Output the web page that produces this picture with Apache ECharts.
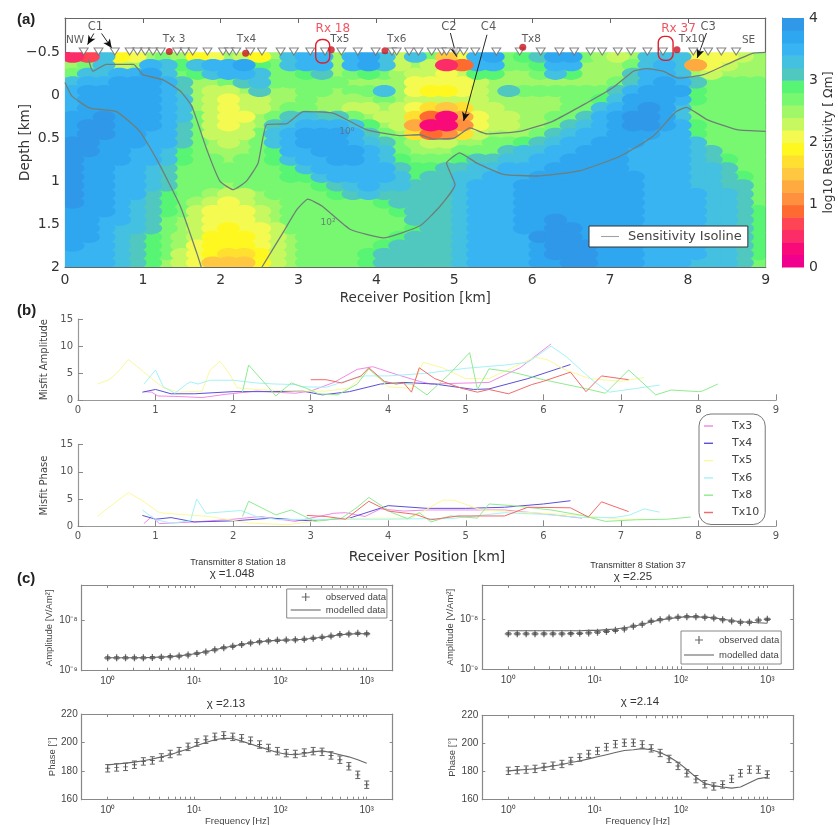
<!DOCTYPE html>
<html><head><meta charset="utf-8">
<style>html,body{margin:0;padding:0;background:#fff}#c{width:838px;height:825px}</style>
<script src="https://cdn.jsdelivr.net/npm/echarts@6/dist/echarts.min.js"></script>
</head><body><div id="c"></div>
<script>
// ---------- DATA ----------
const resistivity = [
[0.4,0.6,3.2,1.8,2.0, 2.4,2.6,2.4,1.9,2.0, 2.4,2.3,1.9,2.5,3.3, 3.5,3.5,2.4,3.5,3.7, 3.3,2.2,3.2,2.6,1.5, 2.0,3.5,3.6,2.7,2.8, 3.0,3.6,3.6,2.6,2.4, 2.3,2.5,3.2,3.3,3.2, 2.0,2.0,2.1,2.2,2.4],
[2.4,2.6,3.2,2.3,2.4, 3.5,3.3,2.8,3.3,3.5, 3.5,3.6,2.9,2.7,3.3, 3.5,3.4,2.4,3.4,3.6, 3.2,2.3,2.5,2.2,0.5, 0.8,3.5,3.4,2.6,2.6, 2.9,3.5,3.4,2.5,2.4, 2.4,2.7,3.3,3.4,3.2, 1.2,2.0,2.2,2.4,2.5],
[2.6,3.3,3.3,3.4,3.4, 3.6,3.3,2.7,2.9,3.3, 3.4,3.5,3.2,2.6,2.7, 2.8,3.0,2.5,2.6,2.8, 2.6,2.4,2.3,2.2,2.0, 2.2,2.9,2.8,2.5,2.5, 2.7,3.2,2.9,2.5,2.4, 2.5,3.0,3.4,3.5,3.3, 2.5,2.3,2.4,2.5,2.5],
[3.3,3.5,3.5,3.6,3.7, 3.7,3.4,3.0,2.5,2.5, 2.6,3.0,3.3,2.6,2.6, 2.6,2.7,2.7,2.5,2.5, 2.5,2.4,2.1,2.0,2.0, 2.1,2.3,2.4,2.5,2.5, 2.5,2.5,2.5,2.5,2.5, 2.6,3.1,3.5,3.6,3.5, 3.0,2.6,2.6,2.6,2.6],
[3.4,3.6,3.6,3.7,3.7, 3.7,3.5,3.1,2.4,2.2, 2.2,2.4,3.1,2.5,2.5, 2.6,2.6,2.5,2.6,2.6, 3.2,2.4,2.0,1.9,1.9, 2.0,2.2,2.4,3.1,2.6, 2.6,2.6,2.6,2.6,2.7, 3.1,3.5,3.6,3.7,3.6, 2.9,2.7,2.6,2.6,2.6],
[3.4,3.6,3.7,3.7,3.7, 3.7,3.5,3.2,2.4,2.2, 2.1,2.2,2.3,2.5,2.5, 2.6,2.5,2.4,2.4,2.5, 2.6,2.5,2.3,2.2,2.2, 2.3,2.3,2.4,2.5,2.5, 2.5,2.5,2.6,2.6,2.8, 3.3,3.6,3.7,3.7,3.4, 2.8,2.7,2.6,2.6,2.6],
[3.5,3.6,3.7,3.7,3.7, 3.6,3.5,3.2,2.5,2.2, 2.1,2.2,2.3,2.5,2.6, 2.6,2.5,2.4,2.3,2.3, 2.4,2.3,2.0,1.6,1.4, 1.7,2.2,2.3,2.4,2.5, 2.5,2.5,2.6,2.7,3.2, 3.5,3.7,3.8,3.7,3.3, 2.7,2.6,2.6,2.6,2.6],
[3.6,3.7,3.8,3.7,3.6, 3.6,3.5,3.2,2.6,2.2, 2.1,2.1,2.4,2.6,3.0, 3.2,3.1,3.0,2.7,2.4, 2.3,2.2,1.6,0.8,0.3, 1.2,2.1,2.2,2.3,2.4, 2.5,2.6,2.7,3.1,3.4, 3.6,3.8,3.8,3.6,3.3, 2.7,2.6,2.6,2.6,2.6],
[3.7,3.8,3.8,3.7,3.6, 3.6,3.5,3.1,2.6,2.3, 2.1,2.2,2.5,3.0,3.3, 3.5,3.5,3.4,3.2,2.8, 2.5,2.3,1.2,0.3,0.2, 1.1,2.0,2.2,2.3,2.4, 2.5,2.7,3.1,3.3,3.5, 3.7,3.8,3.8,3.6,3.4, 2.8,2.6,2.6,2.6,2.6],
[3.7,3.8,3.8,3.6,3.6, 3.5,3.5,3.1,2.6,2.3, 2.2,2.3,2.6,3.2,3.4, 3.6,3.7,3.6,3.4,3.1, 2.7,2.5,1.6,0.9,1.0, 1.6,2.3,2.4,2.5,2.5, 2.7,3.1,3.3,3.5,3.5, 3.6,3.7,3.6,3.5,3.4, 2.9,2.6,2.6,2.6,2.6],
[3.8,3.8,3.7,3.6,3.6, 3.5,3.4,3.0,2.7,2.4, 2.3,2.4,2.7,3.2,3.5, 3.6,3.7,3.7,3.5,3.3, 3.0,2.6,2.4,2.2,2.2, 2.4,2.5,2.6,2.7,2.9, 3.1,3.3,3.5,3.5,3.6, 3.6,3.6,3.5,3.5,3.4, 3.2,2.7,2.6,2.6,2.6],
[3.8,3.8,3.7,3.6,3.5, 3.5,3.3,2.9,2.7,2.5, 2.4,2.5,2.7,2.9,3.4, 3.5,3.7,3.7,3.6,3.4, 3.2,2.7,2.5,2.5,2.5, 2.6,2.6,2.7,3.0,3.2, 3.3,3.5,3.5,3.6,3.6, 3.6,3.5,3.5,3.5,3.4, 3.3,3.0,2.7,2.6,2.6],
[3.8,3.7,3.6,3.6,3.5, 3.4,3.2,2.8,2.7,2.6, 2.5,2.6,2.7,2.8,3.2, 3.4,3.5,3.6,3.6,3.5, 3.3,2.9,2.7,2.7,2.7, 2.8,3.0,3.1,3.2,3.3, 3.5,3.5,3.6,3.6,3.6, 3.6,3.5,3.5,3.5,3.4, 3.3,3.1,2.8,2.6,2.6],
[3.8,3.7,3.6,3.5,3.5, 3.3,3.1,2.7,2.7,2.6, 2.6,2.6,2.7,2.7,2.9, 3.2,3.4,3.5,3.5,3.5, 3.4,3.1,2.8,2.9,3.0, 3.1,3.2,3.3,3.4,3.5, 3.5,3.6,3.6,3.7,3.6, 3.6,3.5,3.5,3.4,3.4, 3.3,3.2,3.0,2.7,2.6],
[3.8,3.7,3.6,3.5,3.4, 3.2,3.0,2.7,2.7,2.6, 2.6,2.6,2.7,2.7,2.8, 2.9,3.2,3.4,3.4,3.5, 3.4,3.2,2.9,3.0,3.1, 3.3,3.3,3.4,3.4,3.5, 3.6,3.7,3.7,3.7,3.6, 3.6,3.6,3.5,3.4,3.4, 3.3,3.2,3.1,2.8,2.6],
[3.8,3.7,3.6,3.5,3.4, 3.2,3.0,2.7,2.6,2.6, 2.5,2.6,2.6,2.7,2.7, 2.7,2.9,3.1,3.3,3.4, 3.3,3.2,3.1,3.1,3.1, 3.3,3.4,3.4,3.5,3.6, 3.7,3.7,3.7,3.6,3.6, 3.6,3.6,3.5,3.4,3.4, 3.3,3.3,3.1,3.0,2.7],
[3.8,3.7,3.6,3.5,3.4, 3.1,2.9,2.7,2.6,2.4, 2.3,2.3,2.5,2.6,2.7, 2.7,2.7,2.9,3.1,3.2, 3.1,3.1,3.1,3.1,3.1, 3.3,3.4,3.4,3.5,3.6, 3.7,3.7,3.7,3.6,3.6, 3.6,3.6,3.5,3.4,3.4, 3.4,3.3,3.2,3.1,2.7],
[3.8,3.7,3.6,3.4,3.3, 3.1,2.8,2.6,2.4,2.2, 2.1,2.2,2.4,2.5,2.7, 2.7,2.7,2.7,2.7,2.7, 2.8,3.0,3.1,3.1,3.1, 3.3,3.4,3.4,3.5,3.6, 3.7,3.7,3.7,3.7,3.6, 3.6,3.6,3.5,3.4,3.4, 3.4,3.3,3.2,3.1,2.7],
[3.7,3.7,3.6,3.4,3.3, 3.1,2.8,2.6,2.3,2.1, 2.0,2.1,2.3,2.5,2.7, 2.7,2.7,2.7,2.7,2.7, 2.7,2.8,3.0,3.1,3.1, 3.3,3.4,3.5,3.5,3.6, 3.7,3.7,3.7,3.7,3.6, 3.6,3.6,3.5,3.4,3.4, 3.4,3.3,3.2,3.1,2.8],
[3.7,3.6,3.5,3.4,3.2, 3.0,2.7,2.5,2.3,2.0, 2.0,2.0,2.2,2.4,2.6, 2.7,2.7,2.7,2.7,2.7, 2.7,2.7,3.0,3.1,3.1, 3.3,3.4,3.5,3.5,3.6, 3.7,3.8,3.7,3.7,3.6, 3.6,3.6,3.5,3.4,3.4, 3.4,3.3,3.2,3.1,2.8],
[3.7,3.6,3.5,3.3,3.2, 3.0,2.7,2.5,2.2,2.0, 1.9,2.0,2.1,2.3,2.6, 2.7,2.7,2.7,2.7,2.7, 2.6,2.7,2.9,3.1,3.1, 3.2,3.4,3.5,3.5,3.6, 3.7,3.8,3.8,3.7,3.7, 3.7,3.6,3.5,3.4,3.4, 3.4,3.3,3.2,3.1,2.8],
[3.6,3.6,3.4,3.3,3.1, 2.9,2.6,2.4,2.2,1.9, 1.9,1.9,2.1,2.3,2.5, 2.7,2.7,2.7,2.7,2.7, 2.6,2.8,3.0,3.1,3.1, 3.2,3.4,3.5,3.5,3.5, 3.8,3.8,3.8,3.7,3.7, 3.7,3.6,3.5,3.4,3.4, 3.4,3.3,3.2,3.1,2.8],
[3.6,3.5,3.4,3.3,3.1, 2.9,2.6,2.4,2.1,1.9, 1.8,1.9,2.0,2.2,2.5, 2.7,2.7,2.7,2.7,2.7, 2.9,3.0,3.1,3.1,3.1, 3.2,3.4,3.5,3.5,3.5, 3.7,3.8,3.8,3.8,3.7, 3.7,3.6,3.5,3.4,3.4, 3.4,3.3,3.2,3.1,2.8],
[3.5,3.5,3.4,3.3,3.1, 2.8,2.6,2.3,2.0,1.8, 1.6,1.7,1.9,2.2,2.5, 2.7,2.7,2.7,2.7,2.8, 3.0,3.1,3.1,3.1,3.1, 3.2,3.4,3.5,3.5,3.5, 3.6,3.8,3.8,3.8,3.7, 3.7,3.6,3.5,3.4,3.4, 3.4,3.3,3.2,3.1,2.8],
[3.5,3.5,3.4,3.2,3.0, 2.8,2.5,2.3,2.0,1.5, 1.4,1.5,1.8,2.2,2.4, 2.6,2.7,2.7,2.7,2.8, 3.0,3.1,3.1,3.1,3.1, 3.2,3.4,3.5,3.5,3.5, 3.6,3.7,3.8,3.8,3.7, 3.7,3.6,3.5,3.4,3.4, 3.3,3.3,3.2,3.1,2.7]
];
const colorLevels = ['#f0008c','#f80a78','#fc2c68','#ff4455','#ff6a30','#ff9040','#ffaa40','#ffc840','#ffe030','#fff820','#f4fa50','#c8f860','#a0f868','#78f870','#58f474','#50c8c0','#44c0e0','#38b4f2','#2fa6f0','#2f98e8'];
const receivers = [.24,.43,.64,.83,.93,1.03,1.13,1.23,1.44,1.54,1.64,1.83,2.03,2.11,2.2,2.38,2.53,2.77,2.94,3.15,3.34,3.55,3.76,3.99,4.2,4.26,4.42,4.54,4.71,4.84,4.9,5.03,5.12,5.27,5.54,5.84,6.11,6.35,6.54,6.75,6.9,7.1,7.27,7.48,7.68,8.07,8.26,8.43,8.62];
const transmitters = [[1.34,-.51],[2.32,-.49],[3.42,-.53],[4.11,-.52],[5.88,-.56],[7.86,-.53]];
const isolineUpper = [[.3,-.42],[.36,-.28],[.53,-.36],[.88,-.36],[1,-.24],[1.26,-.18],[1.48,-.05],[1.63,.13],[1.82,.63],[1.99,1],[2.16,1.1],[2.33,1],[2.48,.79],[2.59,.34],[2.85,.33],[3.06,.19],[3.45,.21],[3.87,.4],[4.3,.47],[4.56,.46],[4.73,.51],[5,.5],[5.2,.38],[5.42,.45],[5.84,.42],[6.27,.3],[6.7,.09],[7.04,-.09],[7.3,-.28],[7.47,-.31],[7.68,-.28],[7.88,-.2],[8.2,-.24],[8.5,-.36],[8.84,-.49],[9,-.5]];
const isolineLowerLeft = [[0,-.15],[.09,.01],[.32,.15],[.66,.19],[.96,.42],[1.18,.75],[1.48,1.29],[1.69,1.83],[1.75,2]];
const isolineLowerRight = [[2.53,2],[2.8,1.6],[2.98,1.33],[3.12,1.21],[3.3,1.29],[3.66,1.56],[4.09,1.66],[4.56,1.52],[4.82,1.29],[5.01,1.04],[4.9,.79],[5.07,.67],[5.29,.79],[5.63,.92],[6.06,.94],[6.61,.88],[7.13,.71],[7.55,.48],[7.85,.19],[7.98,.14],[8.24,.28],[8.63,.4],[9,.42]];
const siteLabels = [['NW',.13,-.64,'#333'],['C1',.39,-.79,'#333'],['Tx 3',1.4,-.655,'#333'],['Tx4',2.33,-.655,'#333'],['Rx 18',3.44,-.775,'#ee2a3a'],['Tx5',3.53,-.655,'#333'],['Tx6',4.26,-.655,'#333'],['C2',4.93,-.795,'#333'],['C4',5.44,-.795,'#333'],['Tx8',5.99,-.655,'#333'],['Rx 37',7.88,-.775,'#ee2a3a'],['C3',8.26,-.795,'#333'],['Tx10',8.05,-.655,'#333'],['SE',8.78,-.64,'#333'],['10⁰',3.62,.42,'#667'],['10²',3.38,1.48,'#667']];
const arrows = [[[.37,-.72],[.29,-.59]],[[.47,-.72],[.6,-.55]],[[4.95,-.725],[5.03,-.45]],[[5.42,-.705],[5.12,.3]],[[8.24,-.725],[8.12,-.435]]];
const rxBoxes = [[3.22,-.65,3.4,-.376],[7.62,-.686,7.81,-.407]];

const txNames = ['Tx3','Tx4','Tx5','Tx6','Tx8','Tx10'];
const txColors = ['#f08ae8','#5c50d8','#fbf99a','#a5f2f7','#8fec8f','#f46a6a'];
const misfitAmp = [
[[.85,1.6],[.95,1.5],[1.03,.8],[1.3,.7],[1.6,.5],[1.9,1.1],[2.3,1.7],[2.8,1.3],[3,1.7],[3.3,3.3],[3.6,5.7],[3.8,6.2],[4.1,4.8],[4.4,3.5],[4.55,3],[5.3,3.3],[5.7,6],[6.1,10.4]],
[[.83,1.5],[1,2],[1.2,1.2],[1.5,1.2],[2,1.6],[2.5,1.6],[2.9,1.7],[3.15,1],[3.5,1.6],[3.9,3],[4.2,3.3],[4.6,3],[5.1,2],[5.3,2.1],[5.8,4],[6.35,6.6]],
[[.25,3],[.4,3.8],[.5,5],[.65,7.5],[.8,5.8],[.95,4],[1.1,2.3],[1.3,1.5],[1.6,1.7],[1.7,5.5],[1.83,7.2],[1.95,5],[2.05,2.3],[2.3,2],[2.8,1.7],[3.2,1.7],[3.5,2.3],[3.75,5.8],[4,2.5],[4.3,2.2],[4.45,7],[4.7,6],[5,4],[5.3,4],[5.6,6],[5.9,8],[6.05,7.5],[6.3,5.5],[6.6,4],[7,3.5],[7.3,4.2]],
[[.85,3],[1,5.6],[1.1,2.5],[1.25,1.3],[1.4,3],[1.45,3.4],[1.55,3],[1.7,3.7],[2,3.7],[2.3,3.2],[2.55,3],[2.8,2.9],[2.9,2.5],[3.2,2.4],[3.5,3.8],[3.7,4.5],[4,4.5],[4.5,5],[5,5.9],[5.5,6.5],[5.8,7],[6.1,10],[6.3,8],[6.65,3.5],[6.85,1.5],[7.2,2.2],[7.5,2.8]],
[[2.12,1.5],[2.2,6.5],[2.45,2.5],[2.55,.8],[2.75,3.2],[2.95,2.2],[3.1,1.2],[3.35,1],[3.6,3],[3.75,5.8],[3.95,3.3],[4.3,3],[4.5,1],[4.8,5],[5.05,8.8],[5.15,2],[5.3,5.8],[5.6,5.2],[6,3.8],[6.5,2.3],[6.8,1.3],[7.1,5.6],[7.45,1],[7.65,1.9],[8,1.6],[8.05,1.7],[8.25,3]],
[[3,3.8],[3.2,3.8],[3.4,3.2],[3.65,4.5],[3.75,6],[3.95,3.5],[4.1,3],[4.2,3.2],[4.3,1.5],[4.4,6],[4.6,4],[4.95,2.2],[5.15,1.5],[5.3,2],[5.55,1.2],[5.85,2.9],[6,3.5],[6.35,5.2],[6.55,1.6],[6.75,4.5],[7.1,3.8]]
];
const misfitPhase = [
[[.85,.5],[.95,1.8],[1.05,.5],[1.5,.8],[2,1.3],[2.35,1.8],[2.8,.9],[3.3,2.4],[3.45,2.5],[3.7,1.8],[3.9,3.2],[4.2,2.8],[4.5,3],[5,3],[5.5,3],[6,2.3],[6.5,1.5]],
[[.83,2],[1,1.3],[1.2,1.6],[1.5,.8],[2,1],[2.5,1.5],[3,1],[3.5,1.5],[4,3.8],[4.5,3.3],[5,3.3],[5.5,3.5],[6,4.1],[6.35,4.7]],
[[.25,1.8],[.4,3.5],[.65,6.2],[.8,5],[1.05,2.5],[1.3,2.2],[1.7,1.8],[2.2,.6],[2.7,.3],[3.3,1.4],[3.8,1.5],[4.3,1.5],[4.7,4.8],[4.85,4.8],[5.2,3],[5.6,2.7],[6.5,2],[7,1.3],[7.3,1.3]],
[[.83,3],[1,1.2],[1.2,.6],[1.45,1],[1.53,5],[1.65,2.4],[2.1,2.9],[2.3,1.8],[2.6,1.2],[3,1.3],[3.5,1.3],[4,1.3],[4.5,1.4],[4.8,1.4],[5.5,2.5],[6,2.2],[6.5,1.6],[6.9,1.6],[7.1,2],[7.3,3.2],[7.5,2.6]],
[[2.12,1.8],[2.2,4.6],[2.55,2.1],[2.75,3],[3,1.3],[3.05,.9],[3.4,1.5],[3.6,3.5],[3.75,5.3],[4.05,2.5],[4.25,1.4],[4.4,2.5],[4.55,.8],[4.8,1.9],[5.15,1.5],[5.3,4.1],[5.6,3.8],[6.1,3],[6.5,2],[6.8,.9],[7.2,1.2],[7.6,1.3],[7.9,1.7]],
[[2.95,2],[3.2,1.8],[3.45,1.3],[3.75,4.6],[4,2.8],[4.35,2.2],[4.55,1.2],[4.9,1.9],[5.5,1.9],[5.8,3.5],[6.35,3.4],[6.58,1.7],[6.75,4.5],[7.1,2.7]]
];
const freq = [1,1.27,1.61,2.04,2.59,3.29,4.18,5.3,6.72,8.53,10.8,13.7,17.4,22.1,28.1,35.6,45.2,57.4,72.8,92.4,117,149,189,240,304,386,489,621,788,1000];
// amplitudes in units of 1e-9 V/Am^2
const amp18Obs = [1.8,1.8,1.8,1.8,1.8,1.82,1.85,1.9,1.95,2.05,2.2,2.35,2.6,2.85,3.05,3.3,3.55,3.75,3.9,4,4.05,4.1,4.2,4.4,4.6,4.85,5.2,5.35,5.5,5.4];
const amp18Mod = [1.8,1.8,1.8,1.8,1.82,1.84,1.87,1.9,1.97,2.07,2.2,2.38,2.6,2.85,3.08,3.3,3.55,3.75,3.9,4,4.05,4.1,4.2,4.4,4.6,4.85,5.15,5.3,5.4,5.4];
const phase18Obs = [182,182.6,183,184.5,186.8,187.5,189.6,192,194,197,200,202,204,205,204,203,201.3,198.6,196.2,194,192.6,192,193,194,193.5,191,188,183.4,177.4,170.5];
const phase18Mod = [184.4,185,185.6,186.3,187.3,188.5,190,191.5,193.5,195.5,198,200,202,203,202.8,201,199,197,195,193,191.8,191.5,192.3,193.5,194.2,193,191.5,190,188,185.5];
const amp37Obs = [5.2,5.2,5.2,5.2,5.2,5.2,5.2,5.25,5.3,5.4,5.6,5.8,6.1,6.5,7.4,8.1,9.3,10,10.8,11.2,11.5,11.5,11.2,10.8,10,9.4,8.9,8.9,9.8,10.2];
const amp37Mod = [6,6,6,6,6,6,6,6,6,6.1,6.1,6.3,6.5,6.9,7.3,8.1,9,9.9,10.5,11.1,11.5,11.4,11.2,11,10.2,9.6,9.1,8.9,8.7,8.5];
const phase37Obs = [180.5,181,181.4,181.9,183.3,184.2,185.4,187.5,190,192.5,194.6,197.4,199.5,200.5,200.5,199.3,196.5,193.2,189,184,178.8,174.6,171,169.4,170.8,174.8,178.8,181.4,181.4,177.9];
const phase37Mod = [180.5,181,181.5,182,183,184,185,186.5,187.5,189,190.5,192,193.5,195,195.5,196.3,195.5,193.5,190.5,186.5,181.5,176,171.5,170,169,168.2,169,172,175,176];
const phaseError = 2.6;
const ampErrorFraction = 0.05;
const xMajor = [1,10,100,1000];
const xMinor = [2,3,4,5,6,7,8,9,20,30,40,50,60,70,80,90,200,300,400,500,600,700,800,900];

// ---------- BUILD ----------
const gray='#666', tc='#444';
const grids=[], xAxes=[], yAxes=[], series=[];
const lineIcon='path://M0 0L0 0M0 44H100V56H0ZM100 100L100 100';
const plusIcon='path://M0 0L0 0M30 9L30 9M14.4 0.5H15.6V8.5H14.4ZM11 3.9H19V5.1H11Z';
function sup(p){return String(p).split('').map(c=>({'-':'⁻','0':'⁰','1':'¹','2':'²','3':'³','4':'⁴','5':'⁵','6':'⁶','7':'⁷','8':'⁸','9':'⁹'}[c])).join('');}
function box(l,t,r,b){grids.push({left:l,top:t,width:r-l,height:b-t,show:false,containLabel:false,outerBoundsMode:'none'});return grids.length-1;}
const noSplit={splitLine:{show:false}};

// (a)
const gA=box(65,18,765.7,267);
const aTicksY=[-.5,0,.5,1,1.5];
xAxes.push({gridIndex:gA,type:'value',min:0,max:9,interval:1,position:'bottom',...noSplit,
  axisLine:{onZero:false,lineStyle:{color:gray,width:1.2}},axisTick:{inside:true,length:5,lineStyle:{color:gray}},
  axisLabel:{fontSize:14,color:'#333',margin:6,fontFamily:'DejaVu Sans'},
  name:'Receiver Position [km]',nameLocation:'middle',nameGap:24,nameTextStyle:{fontSize:13.5,color:'#333',fontFamily:'DejaVu Sans'}});
const xA=xAxes.length-1;
yAxes.push({gridIndex:gA,type:'value',min:-.9,max:2,inverse:true,position:'left',...noSplit,
  axisLine:{show:true,onZero:false,lineStyle:{color:gray,width:1.2}},
  axisTick:{show:true,inside:true,length:5,customValues:aTicksY.concat([2]),lineStyle:{color:gray}},
  axisLabel:{fontSize:14,color:'#333',margin:5,customValues:aTicksY.concat([2]),fontFamily:'DejaVu Sans',formatter:v=>String(v).replace('-','−')},
  name:'Depth [km]',nameLocation:'middle',nameGap:33,nameMoveOverlap:false,nameTextStyle:{fontSize:13.5,color:'#333',fontFamily:'DejaVu Sans'}});
const yA=yAxes.length-1;
xAxes.push({gridIndex:gA,type:'value',min:0,max:9,interval:1,position:'top',...noSplit,axisLine:{onZero:false,lineStyle:{color:gray,width:1.2}},axisTick:{inside:true,length:5,lineStyle:{color:gray}},axisLabel:{show:false}});
yAxes.push({gridIndex:gA,type:'value',min:-.9,max:2,inverse:true,position:'right',...noSplit,axisLine:{show:true,onZero:false,lineStyle:{color:gray,width:1.2}},axisTick:{show:true,inside:true,length:5,customValues:aTicksY,lineStyle:{color:gray}},axisLabel:{show:false}});

const cells=[];
resistivity.forEach((row,i)=>row.forEach((v,j)=>cells.push([j*0.2+0.1,-0.45+i*0.1,v])));
cells.sort((p,q)=>Math.abs(p[2]-2.5)-Math.abs(q[2]-2.5));
series.push({type:'custom',name:'Resistivity',xAxisIndex:xA,yAxisIndex:yA,data:cells,silent:true,animation:false,z:1,progressive:0,
  encode:{x:0,y:1},
  renderItem(p,api){
    const c=api.coord([api.value(0),api.value(1)]);
    const tl=api.coord([0,-.5]), br=api.coord([9,2]);
    const lv=Math.min(19,Math.max(0,Math.floor(api.value(2)*5+1e-6)));
    return {type:'ellipse',shape:{cx:c[0],cy:c[1],rx:11.5,ry:6.1},style:{fill:colorLevels[lv]},
      clipPath:{type:'rect',shape:{x:tl[0],y:tl[1],width:br[0]-tl[0],height:br[1]-tl[1]}}};
  }});
[isolineUpper,isolineLowerLeft,isolineLowerRight].forEach(d=>{
  series.push({type:'line',name:'Sensitivity Isoline',xAxisIndex:xA,yAxisIndex:yA,data:d,smooth:.15,showSymbol:false,symbol:'none',animation:false,z:3,
    lineStyle:{color:'#6f7f78',width:1.3},itemStyle:{color:'#9aa5a0'}});
});
series.push({type:'scatter',name:'Receivers',xAxisIndex:xA,yAxisIndex:yA,data:receivers.map(x=>[x,-.51]),symbol:'triangle',symbolRotate:180,symbolSize:[9,7],animation:false,z:5,silent:true,
  itemStyle:{color:'#fff',borderColor:'#666',borderWidth:1}});
series.push({type:'scatter',name:'Transmitters',xAxisIndex:xA,yAxisIndex:yA,data:transmitters,symbol:'circle',symbolSize:7,animation:false,z:6,silent:true,itemStyle:{color:'#c8141e'}});
series.push({type:'scatter',name:'Site labels',xAxisIndex:xA,yAxisIndex:yA,animation:false,z:7,silent:true,symbolSize:0,
  data:siteLabels.map(s=>({value:[s[1],s[2]],name:s[0],
    label:{show:true,position:'inside',formatter:s[0],color:s[3],fontFamily:'DejaVu Sans',
      fontSize:s[0][0]==='R'?12:s[0].startsWith('10')?9:s[0][0]==='C'?11.5:10.5}}))});
series.push({type:'scatter',name:'Arrows',xAxisIndex:xA,yAxisIndex:yA,data:[],animation:false,z:8,silent:true,
  markLine:{silent:true,animation:false,symbol:['none','arrow'],symbolSize:[6,9],label:{show:false},lineStyle:{color:'#111',width:.9,type:'solid'},
    data:arrows.map(a=>[{coord:a[0]},{coord:a[1]}])}});
series.push({type:'custom',name:'Rx boxes',xAxisIndex:xA,yAxisIndex:yA,data:rxBoxes,silent:true,animation:false,z:8,encode:{x:[0,2],y:[1,3]},
  renderItem(p,api){
    const a=api.coord([api.value(0),api.value(1)]), b=api.coord([api.value(2),api.value(3)]);
    return {type:'rect',shape:{x:a[0],y:a[1],width:b[0]-a[0],height:b[1]-a[1],r:6},style:{fill:'none',stroke:'#e01f2d',lineWidth:1.4}};
  }});

// colourbar
const gC=box(782,18,804,267);
xAxes.push({gridIndex:gC,type:'value',min:0,max:1,show:false,...noSplit});
yAxes.push({gridIndex:gC,type:'value',min:0,max:4,interval:1,position:'right',...noSplit,
  axisLine:{show:true,lineStyle:{color:gray}},axisTick:{show:false},
  axisLabel:{fontSize:14,color:'#333',margin:5,fontFamily:'DejaVu Sans'},
  name:'log10 Resistivity [ Ωm]',nameLocation:'middle',nameGap:17,nameRotate:90,nameTextStyle:{fontSize:12.5,color:'#333',fontFamily:'DejaVu Sans'}});
series.push({type:'custom',name:'Colourbar',xAxisIndex:xAxes.length-1,yAxisIndex:yAxes.length-1,silent:true,animation:false,z:2,
  data:colorLevels.map((c,i)=>[i*0.2]),encode:{y:0},
  renderItem(p,api){
    const i=p.dataIndex, a=api.coord([0,api.value(0)+.2]), b=api.coord([1,api.value(0)]);
    return {type:'rect',shape:{x:a[0],y:a[1],width:b[0]-a[0],height:b[1]-a[1]+.5},style:{fill:colorLevels[i]}};
  }});

// (b)
function misfit(top,bottom,name,data,xname){
  const g=box(78,top,776,bottom);
  const xa={gridIndex:g,type:'value',min:0,max:9,interval:1,...noSplit,
    axisLine:{onZero:false,lineStyle:{color:'#999',width:1.2}},axisTick:{inside:true,length:6,lineStyle:{color:'#888'}},
    axisLabel:{fontSize:10,color:'#555',margin:5,fontFamily:'DejaVu Sans'}};
  if(xname){Object.assign(xa,{name:xname,nameLocation:'middle',nameGap:24,nameTextStyle:{fontSize:14,color:'#333',fontFamily:'DejaVu Sans'}});}
  xAxes.push(xa);
  yAxes.push({gridIndex:g,type:'value',min:0,max:15,interval:5,...noSplit,
    axisLine:{show:true,onZero:false,lineStyle:{color:'#999',width:1.2}},axisTick:{show:true,inside:true,length:5,lineStyle:{color:'#888'}},
    axisLabel:{fontSize:10,color:'#555',margin:5,fontFamily:'DejaVu Sans'},
    name:name,nameLocation:'middle',nameGap:29,nameTextStyle:{fontSize:10,color:'#444',fontFamily:'DejaVu Sans'}});
  data.forEach((d,i)=>series.push({type:'line',name:txNames[i],xAxisIndex:xAxes.length-1,yAxisIndex:yAxes.length-1,data:d,
    showSymbol:false,symbol:'none',animation:false,lineStyle:{color:txColors[i],width:1},itemStyle:{color:txColors[i]},z:3}));
}
misfit(319,400.3,'Misfit Amplitude',misfitAmp,null);
misfit(444.7,526.3,'Misfit Phase',misfitPhase,'Receiver Position [km]');

// (c)
function freqPlot(l,t,r,b,yOpts,name,obs,mod,err,xname){
  const g=box(l,t,r,b);
  const lab={fontSize:10,color:tc,margin:6,fontFamily:'Liberation Sans'};
  const mainX={gridIndex:g,type:'log',logBase:10,min:.5,max:2000,position:'bottom',...noSplit,
    axisLine:{onZero:false,lineStyle:{color:'#888',width:1.2}},
    axisTick:{show:true,inside:true,length:3,customValues:xMajor.concat(xMinor),lineStyle:{color:'#888'}},
    axisLabel:{...lab,customValues:xMajor,formatter:v=>'10'+sup(Math.round(Math.log10(v)))},minorTick:{show:false}};
  if(xname)Object.assign(mainX,{name:xname,nameLocation:'middle',nameGap:17,nameTextStyle:{fontSize:9.5,color:tc,fontFamily:'Liberation Sans'}});
  xAxes.push(mainX);const xi=xAxes.length-1;
  yAxes.push({gridIndex:g,position:'left',type:yOpts.type,min:yOpts.min,max:yOpts.max,logBase:yOpts.logBase,...noSplit,
    axisLine:{show:true,onZero:false,lineStyle:{color:'#888',width:1.2}},
    axisTick:{show:true,inside:true,length:3,lineStyle:{color:'#888'},customValues:yOpts.ticks},
    axisLabel:{...lab,margin:4,customValues:yOpts.ticks,formatter:yOpts.type==='log'?(v=>'10'+sup(Math.round(Math.log10(v)))):undefined},
    name:name,nameLocation:'middle',nameGap:yOpts.type==='log'?27:23,nameTextStyle:{fontSize:9.5,color:tc,fontFamily:'Liberation Sans'}});
  const yi=yAxes.length-1;
  xAxes.push({gridIndex:g,type:'log',logBase:10,min:.5,max:2000,position:'top',...noSplit,axisLine:{onZero:false,lineStyle:{color:'#888',width:1.2}},axisTick:{show:true,inside:true,length:3,customValues:xMajor.concat(xMinor),lineStyle:{color:'#888'}},axisLabel:{show:false}});
  yAxes.push({gridIndex:g,position:'right',type:yOpts.type,min:yOpts.min,max:yOpts.max,logBase:yOpts.logBase,...noSplit,axisLine:{show:true,onZero:false,lineStyle:{color:'#888',width:1.2}},axisTick:{show:true,inside:true,length:3,lineStyle:{color:'#888'},customValues:yOpts.ticks},axisLabel:{show:false}});
  const od=freq.map((f,i)=>[f,obs[i]]), md=freq.map((f,i)=>[f,mod[i]]);
  series.push({type:'custom',name:'error bars',xAxisIndex:xi,yAxisIndex:yi,silent:true,animation:false,z:3,encode:{x:0,y:1},
    data:od.map((d,i)=>[d[0],d[1],err(d[1])]),
    renderItem(p,api){
      const x=api.value(0),y=api.value(1),e=api.value(2);
      const hi=api.coord([x,y+e]),lo=api.coord([x,y-e]),st={stroke:'#555',lineWidth:.9};
      const c=[{type:'line',shape:{x1:hi[0],y1:hi[1],x2:lo[0],y2:lo[1]},style:st},
        {type:'line',shape:{x1:hi[0]-2.5,y1:hi[1],x2:hi[0]+2.5,y2:hi[1]},style:st},
        {type:'line',shape:{x1:lo[0]-2.5,y1:lo[1],x2:lo[0]+2.5,y2:lo[1]},style:st}];
      return {type:'group',children:c};
    }});
  series.push({type:'scatter',name:'observed data',xAxisIndex:xi,yAxisIndex:yi,data:od,animation:false,z:4,silent:true,
    symbol:'path://M4.5 0H6.5V11H4.5ZM0 4.5H11V6.5H0Z',symbolSize:yOpts.type==='log'?7:5,itemStyle:{color:'#444'}});
  series.push({type:'line',name:'modelled data',xAxisIndex:xi,yAxisIndex:yi,data:md,showSymbol:false,symbol:'none',animation:false,z:5,silent:true,
    lineStyle:{color:'#666',width:1.1},itemStyle:{color:'#666'}});
}
const ampY={type:'log',logBase:10,min:1e-9,max:5e-8,ticks:[1e-9,1e-8]};
const phY={type:'value',min:160,max:220,ticks:[160,180,200,220]};
const e9=a=>a.map(v=>v*1e-9);
const ampErr=v=>v*ampErrorFraction, phErr=()=>phaseError;
freqPlot(81.7,585,392.7,670.7,ampY,'Amplitude [V/Am²]',e9(amp18Obs),e9(amp18Mod),ampErr,null);
freqPlot(81.7,714,392.7,799.7,phY,'Phase [°]',phase18Obs,phase18Mod,phErr,'Frequency [Hz]');
freqPlot(482.3,585,793.3,669.3,ampY,'Amplitude [V/Am²]',e9(amp37Obs),e9(amp37Mod),ampErr,null);
freqPlot(482.3,715.3,793.3,799.7,phY,'Phase [°]',phase37Obs,phase37Mod,phErr,'Frequency [Hz]');

function T(text,cx,cy,size,extra){return {text,left:cx,top:cy-size*.6,textAlign:'center',padding:0,textStyle:{fontSize:size,fontWeight:'normal',color:'#333',fontFamily:'Liberation Sans',...(extra||{})}};}
const titles=[
 T('Transmitter 8 Station 18',238,563.5,9),T('χ =1.048',232,575,11.5),T('χ =2.13',226,705,11.5),
 T('Transmitter 8 Station 37',638,566,9),T('χ =2.25',633,578,11.5),T('χ =2.14',640,703,11.5),
 {text:'(a)',left:17,top:12,padding:0,textStyle:{fontSize:15,fontWeight:'bold',color:'#222',fontFamily:'Liberation Sans'}},
 {text:'(b)',left:17,top:303,padding:0,textStyle:{fontSize:15,fontWeight:'bold',color:'#222',fontFamily:'Liberation Sans'}},
 {text:'(c)',left:17,top:571,padding:0,textStyle:{fontSize:15,fontWeight:'bold',color:'#222',fontFamily:'Liberation Sans'}}
];
const legends=[
 {left:589,top:226,orient:'horizontal',data:[{name:'Sensitivity Isoline',icon:lineIcon}],selectedMode:false,symbolKeepAspect:false,itemWidth:18,itemHeight:9,itemGap:5,padding:[4,6,4,12],
  backgroundColor:'#fff',borderColor:'#333',borderWidth:1,textStyle:{fontSize:13,color:'#444',fontFamily:'DejaVu Sans',padding:[0,0,0,4]}},
 {left:699,top:414,orient:'vertical',data:txNames.map(n=>({name:n,icon:lineIcon})),selectedMode:false,symbolKeepAspect:false,itemWidth:9,itemHeight:12,itemGap:5.3,padding:[6,6,6,5],
  borderColor:'#777',borderWidth:1,borderRadius:12,textStyle:{fontSize:11,color:'#444',fontFamily:'DejaVu Sans',padding:[0,0,0,14]}},
 {left:286.7,top:589,orient:'vertical',data:[{name:'observed data',icon:plusIcon},{name:'modelled data',icon:lineIcon}],selectedMode:false,symbolKeepAspect:false,itemWidth:30,itemHeight:9,itemGap:3,padding:[3,1,3,4],
  backgroundColor:'#fff',borderColor:'#888',borderWidth:1,textStyle:{fontSize:9.5,color:'#444',fontFamily:'Liberation Sans'}},
 {left:681,top:631,orient:'vertical',data:[{name:'observed data',icon:plusIcon},{name:'modelled data',icon:lineIcon}],selectedMode:false,symbolKeepAspect:false,itemWidth:30,itemHeight:9,itemGap:5,padding:[4,2,4,3],
  backgroundColor:'#fff',borderColor:'#888',borderWidth:1,textStyle:{fontSize:9.5,color:'#444',fontFamily:'Liberation Sans'}}
];
const chart=echarts.init(document.getElementById('c'),null,{renderer:'canvas'});
chart.setOption({animation:false,backgroundColor:'#fff',title:titles,legend:legends,grid:grids,xAxis:xAxes,yAxis:yAxes,series,tooltip:{show:false}});
</script></body></html>
